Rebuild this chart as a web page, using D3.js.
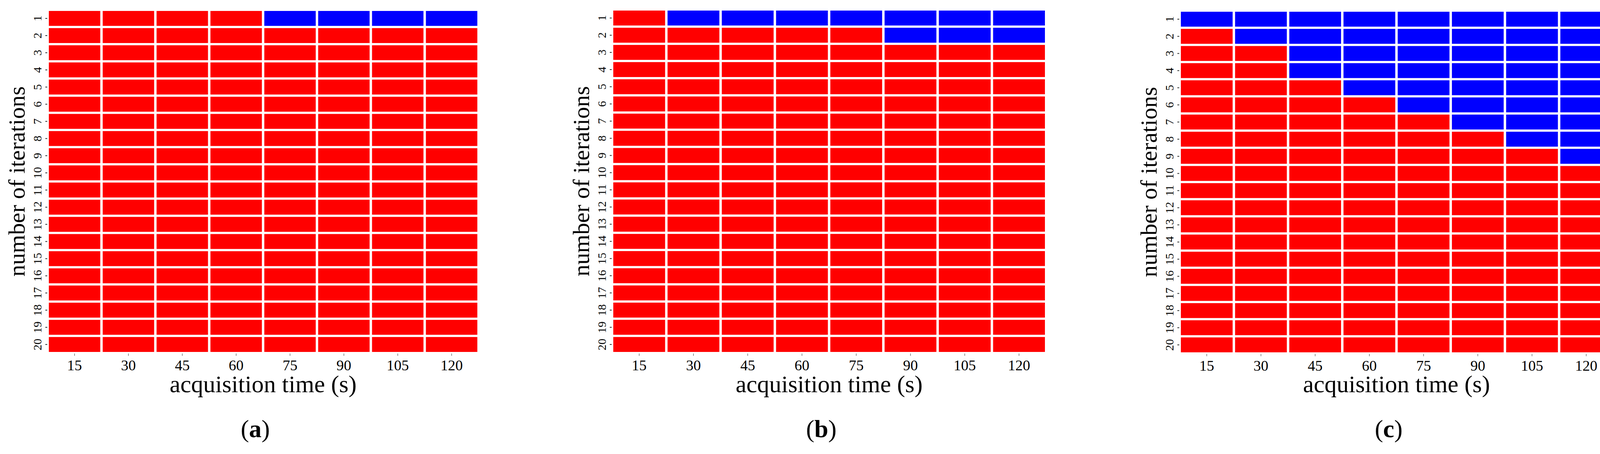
<!DOCTYPE html>
<html>
<head>
<meta charset="utf-8">
<script src="https://cdn.jsdelivr.net/npm/d3@7"></script>
<style>
	html, body { margin: 0; background: #fff; overflow: hidden; }
	svg { display: block; }
	text { font-family: "Liberation Serif", "Times New Roman", serif; fill: #000; }
</style>
</head>
<body>
<svg id="chart" width="4155" height="1161"></svg>
<script>

// acquisition time (s) and iteration counts
const times = [ 15, 30, 45, 60, 75, 90, 105, 120 ];
const iterations = d3.range( 1, 21 );

// number of blue (top) rows for each acquisition time, per panel
const blueRowsA = [ 0, 0, 0, 0, 1, 1, 1, 1 ];
const blueRowsB = [ 0, 1, 1, 1, 1, 2, 2, 2 ];
const blueRowsC = [ 1, 2, 4, 5, 6, 7, 8, 9 ];

const panelLabels = [ "a", "b", "c" ];

const panels = [
	{ left: 125,  right: 1222, top: 28, bottom: 900, blue: blueRowsA },
	{ left: 1570, right: 2675, top: 27, bottom: 900, blue: blueRowsB },
	{ left: 3023, right: 4127, top: 30, bottom: 901, blue: blueRowsC }
];

const svg = d3.select( "#chart" );

panels.forEach( ( p, i ) => {

	let g = svg.append( "g" );

	let x = d3.scaleBand().domain( times ).range( [ p.left, p.right ] ).paddingInner( 0.045 );
	let y = d3.scaleBand().domain( iterations ).range( [ p.top, p.bottom ] ).paddingInner( 0.13 );

	let cells = [];
	times.forEach( ( t, ci ) => {
		iterations.forEach( r => {
			cells.push( { t, r, blue: r <= p.blue[ ci ] } );
		} );
	} );

	g.selectAll( "rect" )
		.data( cells )
		.join( "rect" )
			.attr( "x", d => x( d.t ) )
			.attr( "y", d => y( d.r ) )
			.attr( "width", x.bandwidth() )
			.attr( "height", y.bandwidth() )
			.attr( "fill", d => d.blue ? "#0000ff" : "#ff0000" );

	// x axis
	let xa = g.append( "g" )
		.attr( "transform", `translate(0,${ p.bottom + 4 })` )
		.call( d3.axisBottom( x ).tickSize( 6 ).tickPadding( 8 ) );
	xa.select( ".domain" ).remove();
	xa.selectAll( "line" ).attr( "stroke", "#333" );
	xa.selectAll( "text" ).style( "font-size", "38px" ).attr( "dy", "0.75em" );

	// y axis, rotated tick labels
	let ya = g.append( "g" )
		.attr( "transform", `translate(${ p.left - 4 },0)` )
		.call( d3.axisLeft( y ).tickSize( 5 ).tickPadding( 8 ) );
	ya.select( ".domain" ).remove();
	ya.selectAll( "line" ).attr( "stroke", "#333" ).attr( "stroke-width", 2 );
	ya.selectAll( "text" )
		.style( "font-size", "30px" )
		.attr( "text-anchor", "middle" )
		.attr( "dy", null )
		.attr( "transform", "translate(-22,0) rotate(-90)" )
		.attr( "x", 0 )
		.attr( "y", 0 )
		.attr( "dominant-baseline", "middle" );

	let cx = ( p.left + p.right ) / 2;

	g.append( "text" )
		.attr( "x", cx )
		.attr( "y", 1003 )
		.attr( "text-anchor", "middle" )
		.style( "font-size", "62px" )
		.text( "acquisition time (s)" );

	g.append( "text" )
		.attr( "transform", `translate(${ p.left - 62 },${ ( p.top + p.bottom ) / 2 }) rotate(-90)` )
		.attr( "text-anchor", "middle" )
		.style( "font-size", "60px" )
		.text( "number of iterations" );

	let lab = g.append( "text" )
		.attr( "x", cx - 20 )
		.attr( "y", 1118 )
		.attr( "text-anchor", "middle" )
		.style( "font-size", "64px" );
	lab.append( "tspan" ).text( "(" );
	lab.append( "tspan" ).style( "font-weight", "bold" ).text( panelLabels[ i ] );
	lab.append( "tspan" ).text( ")" );
} );

</script>
</body>
</html>
